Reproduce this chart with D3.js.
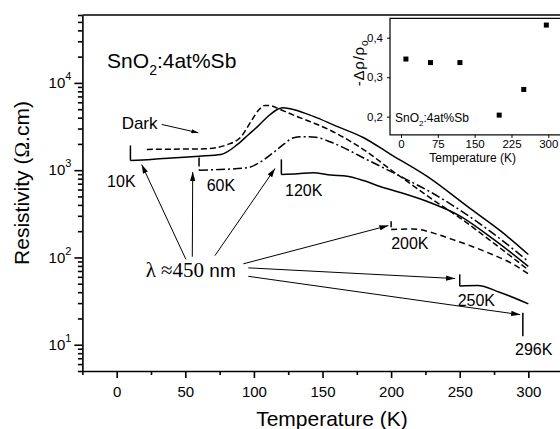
<!DOCTYPE html>
<html>
<head>
<meta charset="utf-8">
<script src="https://cdn.jsdelivr.net/npm/d3@7"></script>
<style>
	body { margin: 0; background: #fff; }
	.sans { font-family: Arial, "Liberation Sans", sans-serif; }
	.serif { font-family: "Liberation Serif", "DejaVu Serif", serif; }
	.curve { fill: none; stroke: #000; stroke-width: 1.5px; }
	.arrow { stroke: #000; stroke-width: 1px; }
	.axis path, .axis line { stroke: #000; }
	.axis text { fill: #000; font-family: Arial, "Liberation Sans", sans-serif; }
</style>
</head>
<body>
<div id="chart"></div>
<script>
	// main panel: temperature (K), resistivity (ohm.cm)
	var darkCurve = [[22,1730],[40,1740],[64,1757],[81,1972],[91,2455],[98,3650],[104,5000],[108,5520],[113,5450],
		[119,4970],[131,4150],[143,3500],[156,2850],[168,2250],[182,1637],[200,1005],[214,700],[228,487],
		[250,285],[275,145],[300,72]];
	var light10K = [[10,1920],[10,1290],[25,1327],[40,1380],[60,1448],[76,1514],[88,1972],[96,2550],[103,3200],
		[110,4100],[117,4965],[121,5200],[130,4900],[143,4160],[160,3200],[180,2355],[199,1540],[226,853],
		[257,370],[280,200],[300,108]];
	var light60K = [[60,1400],[60,1000],[75,1019],[95,1065],[105,1250],[114,1583],[122,2000],[129,2355],[136,2420],
		[145,2380],[156,2100],[168,1727],[180,1380],[192,1112],[210,800],[228,570],[250,350],[275,185],[300,90]];
	var light120K = [[120,1330],[120,893],[132,910],[143,934],[156,880],[168,853],[180,760],[192,650],[206,560],
		[226,440],[250,300],[275,160],[300,79]];
	var light200K = [[200,260],[200,209],[216,212],[231,190],[245,160],[260,132],[275,106],[287,87],[300,65]];
	var light250K = [[250,64],[250,47],[263,47.6],[279,40],[300,29.4]];
	var light296K = [[296,23.2],[296,12.5]];

	var xTicks = [0, 50, 100, 150, 200, 250, 300];
	var xMinor = [-25, 25, 75, 125, 175, 225, 275, 325];
	var yTicks = [10, 100, 1000, 10000];

	// step labels and arrows, in data units
	var stepLabels = [["10K",-7,650],["60K",65.6,570],["120K",122.7,504],["200K",200,126],["250K",248.5,27.5],["296K",290.3,7.7]];
	var lightArrows = [[[52.2,83],[18.2,1162]],[[55.1,102],[55.4,953]],[[71.6,105],[115.4,1046]],
		[[92.3,84.5],[198,232]],[[95.9,76],[246.6,57.3]],[[95.9,60.8],[294,22.1]]];
	var darkArrow = [[32.8,3342],[59.5,2686]];

	// inset: -delta rho / rho0 against temperature
	var insetTemps = [10, 60, 120, 200, 250, 296];
	var insetValues = [0.346, 0.337, 0.337, 0.204, 0.269, 0.432];
	var insetXTicks = [0, 75, 150, 225, 300];
	var insetYTicks = [0.2, 0.3, 0.4];

	var width = 560, height = 429;

	var svg = d3.select("#chart").append("svg")
		.attr("class", "sans")
		.attr("width", width)
		.attr("height", height);

	var defs = svg.append("defs");
	function marker(id, w, h) {
		defs.append("marker")
			.attr("id", id)
			.attr("markerUnits", "userSpaceOnUse")
			.attr("viewBox", "0 0 10 6")
			.attr("refX", 10).attr("refY", 3)
			.attr("markerWidth", w).attr("markerHeight", h)
			.attr("orient", "auto")
			.append("path").attr("d", "M0,0L10,3L0,6Z").attr("fill", "#000");
	}
	marker("head", 9, 5.4);
	marker("head-small", 7, 4.2);

	var x = d3.scaleLinear().domain([-25, 330]).range([82.4, 569.5]);
	var y = d3.scaleLog().domain([5, 60000]).range([371, 15]);

	// frame top
	svg.append("line")
		.attr("x1", x(-25)).attr("x2", x(330))
		.attr("y1", y(60000)).attr("y2", y(60000))
		.attr("stroke", "#000").attr("stroke-width", 1.6);

	var xAxis = svg.append("g")
		.attr("class", "axis")
		.attr("transform", "translate(0," + y(5) + ")")
		.call(d3.axisBottom(x).tickValues(xTicks).tickSize(7).tickPadding(8).tickSizeOuter(0));
	xAxis.selectAll("text").attr("font-size", "15px");
	xAxis.append("g").call(d3.axisBottom(x).tickValues(xMinor).tickSize(4).tickFormat(""))
		.call(g => g.select(".domain").remove());
	xAxis.selectAll("path, line").attr("stroke-width", 1.6);

	var yMinor = [];
	[1, 10, 100, 1000, 10000].forEach(function(p) {
		for (var k = 2; k <= 9; k++) {
			var v = k * p;
			if (v >= 5 && v <= 60000) yMinor.push(v);
		}
	});
	var yAxis = svg.append("g")
		.attr("class", "axis")
		.attr("transform", "translate(" + x(-25) + ",0)")
		.call(d3.axisLeft(y).tickValues(yTicks).tickSize(8).tickPadding(3).tickSizeOuter(0));
	yAxis.selectAll(".tick text").each(function(d) {
		var t = d3.select(this).text(null).attr("font-size", "15px");
		t.append("tspan").text("10");
		t.append("tspan").attr("dy", -8).attr("font-size", "11px").text(Math.round(Math.log10(d)));
	});
	yAxis.append("g").call(d3.axisLeft(y).tickValues(yMinor).tickSize(4.5).tickFormat(""))
		.call(g => g.select(".domain").remove());
	yAxis.selectAll("path, line").attr("stroke-width", 1.6);

	svg.append("text")
		.attr("x", 332).attr("y", 426)
		.attr("text-anchor", "middle")
		.attr("font-size", "21px")
		.text("Temperature (K)");

	var yl = svg.append("text")
		.attr("transform", "translate(29," + 183 + ") rotate(-90)")
		.attr("text-anchor", "middle")
		.attr("font-size", "21px");
	yl.append("tspan").text("Resistivity (");
	yl.append("tspan").attr("class", "serif").text("\u03A9");
	yl.append("tspan").text(".cm)");

	// curves
	var lineLin = d3.line().x(d => x(d[0])).y(d => y(d[1]));
	var lineSmooth = d3.line().x(d => x(d[0])).y(d => y(d[1])).curve(d3.curveMonotoneX);

	function drawCurve(data, dash) {
		var rest = data;
		if (data[0][0] === data[1][0]) {
			svg.append("path").attr("class", "curve")
				.attr("d", lineLin(data.slice(0, 2)))
				.attr("stroke-dasharray", dash);
			rest = data.slice(1);
		}
		if (rest.length > 1) {
			svg.append("path").attr("class", "curve")
				.attr("d", lineSmooth(rest))
				.attr("stroke-dasharray", dash);
		}
	}

	drawCurve(darkCurve, "6,3");
	drawCurve(light10K, null);
	drawCurve(light60K, "9,3,2,3");
	drawCurve(light120K, null);
	drawCurve(light200K, "6,4");
	drawCurve(light250K, null);
	drawCurve(light296K, null);

	// annotations
	svg.append("text")
		.attr("x", x(-7)).attr("y", y(14660))
		.attr("font-size", "21px")
		.call(t => {
			t.append("tspan").text("SnO");
			t.append("tspan").attr("dy", 7).attr("font-size", "14px").text("2");
			t.append("tspan").attr("dy", -7).text(":4at%Sb");
		});

	svg.selectAll(".step-label")
		.data(stepLabels)
		.join("text")
		.attr("class", "step-label")
		.attr("x", d => x(d[1])).attr("y", d => y(d[2]))
		.attr("font-size", "16px")
		.text(d => d[0]);

	svg.append("text")
		.attr("x", x(3.6)).attr("y", y(3000))
		.attr("font-size", "17px")
		.text("Dark");

	svg.append("line").attr("class", "arrow")
		.attr("x1", x(darkArrow[0][0])).attr("y1", y(darkArrow[0][1]))
		.attr("x2", x(darkArrow[1][0])).attr("y2", y(darkArrow[1][1]))
		.attr("stroke-width", 0.8)
		.attr("marker-end", "url(#head-small)");

	svg.selectAll(".light-arrow")
		.data(lightArrows)
		.join("line")
		.attr("class", "arrow light-arrow")
		.attr("x1", d => x(d[0][0])).attr("y1", d => y(d[0][1]))
		.attr("x2", d => x(d[1][0])).attr("y2", d => y(d[1][1]))
		.attr("marker-end", "url(#head)");

	svg.append("rect")
		.attr("x", x(19)).attr("y", y(95))
		.attr("width", 93).attr("height", 22)
		.attr("fill", "#fff");
	var lam = svg.append("text")
		.attr("class", "serif")
		.attr("font-size", "21px")
		.attr("x", x(21.1)).attr("y", y(59));
	lam.append("tspan").text("\u03BB \u2248450 ");
	lam.append("tspan").attr("class", "sans").attr("font-size", "19px").text("nm");

	// inset
	var ix = d3.scaleLinear().domain([0, 300]).range([401, 548.3]);
	var iy = d3.scaleLinear().domain([0.2, 0.4]).range([116.7, 37.7]);
	var inset = svg.append("g");
	inset.append("rect")
		.attr("x", ix(-22.4)).attr("y", iy(0.449))
		.attr("width", ix(330) - ix(-22.4)).attr("height", iy(0.154) - iy(0.449))
		.attr("fill", "#fff").attr("stroke", "#000").attr("stroke-width", 1.2);

	var ixAxis = inset.append("g")
		.attr("class", "axis")
		.attr("transform", "translate(0," + iy(0.154) + ")")
		.call(d3.axisBottom(ix).tickValues(insetXTicks).tickSize(3).tickPadding(2));
	ixAxis.select(".domain").remove();
	ixAxis.selectAll("text").attr("font-size", "11.5px");

	var iyAxis = inset.append("g")
		.attr("class", "axis")
		.attr("transform", "translate(" + ix(-22.4) + ",0)")
		.call(d3.axisLeft(iy).tickValues(insetYTicks).tickSize(3).tickPadding(4)
			.tickFormat(d => d3.format(".1f")(d).replace(".", ",")));
	iyAxis.select(".domain").remove();
	iyAxis.selectAll("text").attr("font-size", "11.5px");

	inset.selectAll(".pt")
		.data(insetTemps)
		.join("rect")
		.attr("class", "pt")
		.attr("x", (d, i) => ix(d) - 2.5)
		.attr("y", (d, i) => iy(insetValues[i]) - 2.5)
		.attr("width", 5).attr("height", 5)
		.attr("fill", "#000");

	inset.append("text")
		.attr("x", ix(150) - 2).attr("y", 162)
		.attr("text-anchor", "middle")
		.attr("font-size", "12px")
		.text("Temperature (K)");

	var iyl = inset.append("text")
		.attr("transform", "translate(364,63) rotate(-90)")
		.attr("text-anchor", "middle")
		.attr("font-size", "15px")
		.attr("letter-spacing", "0.8px");
	iyl.append("tspan").text("-\u0394\u03C1/\u03C1");
	iyl.append("tspan").attr("dy", 4).attr("font-size", "10px").text("o");

	inset.append("text")
		.attr("x", ix(-12.2)).attr("y", iy(0.187))
		.attr("font-size", "12px")
		.call(t => {
			t.append("tspan").text("SnO");
			t.append("tspan").attr("dy", 4).attr("font-size", "8px").text("2");
			t.append("tspan").attr("dy", -4).text(":4at%Sb");
		});
</script>
</body>
</html>
